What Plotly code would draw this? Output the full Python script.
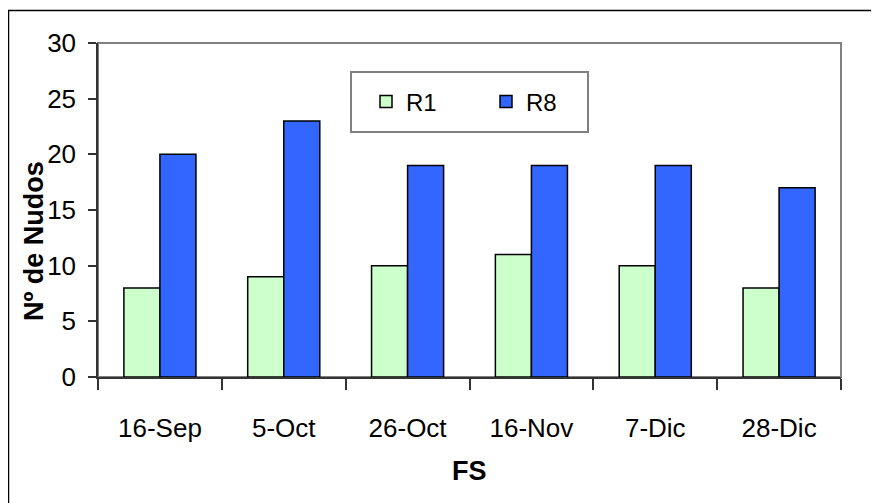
import plotly.graph_objects as go

categories = ["16-Sep", "5-Oct", "26-Oct", "16-Nov", "7-Dic", "28-Dic"]
r1_values = [8, 9, 10, 11, 10, 8]
r8_values = [20, 23, 19, 19, 19, 17]
y_ticks = [0, 5, 10, 15, 20, 25, 30]

# The page body has an 8px margin: the figure is drawn 8px in from the window corner.
OFF = 8
W, H = 879 - OFF, 503 - OFF
# plot area edges in window (screen) pixels
L, R, T, B = 98, 841, 43, 377

def px(x):
    return (x - L) / (R - L)

def py(y):
    return (B - y) / (B - T)

font_family = "Liberation Sans, Arial, sans-serif"

fig = go.Figure()
fig.add_trace(go.Bar(name="R1", x=categories, y=r1_values,
                     marker=dict(color="#CCFFCC", line=dict(color="black", width=1.5))))
fig.add_trace(go.Bar(name="R8", x=categories, y=r8_values,
                     marker=dict(color="#3366FF", line=dict(color="black", width=1.5))))

fig.update_layout(
    width=W, height=H,
    margin=dict(l=L - OFF, r=879 - R, t=T - OFF, b=503 - B, pad=0),
    paper_bgcolor="white", plot_bgcolor="white",
    barmode="group", bargap=0.418, bargroupgap=0,
    font=dict(family=font_family, size=26, color="black"),
    showlegend=True,
    legend=dict(orientation="h", x=px(366), y=py(102), xanchor="left", yanchor="middle",
                borderwidth=0, bgcolor="rgba(0,0,0,0)",
                font=dict(size=24), entrywidth=75, entrywidthmode="pixels"),
    xaxis=dict(type="category", tickson="boundaries", ticks="outside", ticklen=11,
               tickcolor="#333333", tickwidth=1.5, showline=True, linecolor="#333333",
               linewidth=1.5, showgrid=False, ticklabelstandoff=27, automargin=False,
               tickfont=dict(size=26)),
    yaxis=dict(range=[0, 30], tickvals=y_ticks, ticks="outside", ticklen=8,
               tickcolor="#333333", tickwidth=1.5, showline=True, linecolor="#333333",
               linewidth=1.5, showgrid=False, zeroline=False, ticklabelstandoff=7,
               automargin=False, tickfont=dict(size=26)),
    shapes=[
        dict(type="rect", xref="paper", yref="paper", x0=0, x1=1, y0=0, y1=1,
             line=dict(color="#808080", width=2), layer="below"),
        dict(type="rect", xref="paper", yref="paper", x0=px(8.5), x1=px(900),
             y0=py(530), y1=py(10.5), line=dict(color="black", width=1.5), layer="below"),
        dict(type="rect", xref="paper", yref="paper", x0=px(351), x1=px(588),
             y0=py(132), y1=py(72), line=dict(color="#808080", width=2),
             fillcolor="white", layer="above"),
    ],
    annotations=[
        dict(text="<b>Nº de Nudos</b>", xref="paper", yref="paper", x=px(34), y=py(241),
             xanchor="center", yanchor="middle", textangle=-90, showarrow=False,
             font=dict(size=27, family=font_family, color="black")),
        dict(text="<b>FS</b>", xref="paper", yref="paper", x=px(470), y=py(471),
             xanchor="center", yanchor="middle", showarrow=False,
             font=dict(size=27, family=font_family, color="black")),
    ],
)

fig.write_html("out.html")
